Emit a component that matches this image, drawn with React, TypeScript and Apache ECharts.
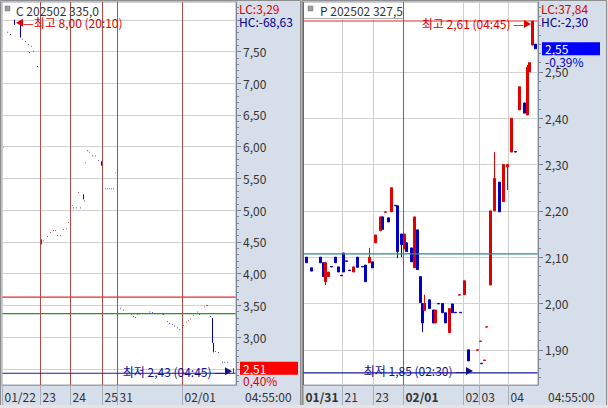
import React, { useEffect, useRef } from 'react';
import * as echarts from 'echarts';

const FONT = '"Noto Sans CJK KR", "Noto Sans", sans-serif';
const UP = '#e00000';
const DOWN = '#0000c0';

// ---------------- Left panel: C 202502 335,0 ----------------
const leftTitle = 'C 202502 335,0';
const leftLC = 'LC:3,29';
const leftHC = 'HC:-68,63';
const leftSlotCount = 234;
const leftTickSlots = [0, 38, 68, 100, 115, 180];
const leftTickLabels = ['01/22', '23', '24', '25', '31', '02/01'];
const leftDaySlots = [38, 68, 100, 115, 180];
const leftHourSlots: number[] = [];
const leftYMin = 2.245;
const leftYMax = 8.28;
const leftLabelValues = [3.0, 3.5, 4.0, 4.5, 5.0, 5.5, 6.0, 6.5, 7.0, 7.5];
const leftGridValues = [2.5, 3.0, 3.5, 4.0, 4.5, 5.0, 5.5, 6.0, 6.5, 7.0, 7.5, 8.0];
const leftMinorStep = 0.1;
// [slot, open, close, (low, high)]
const leftBars: number[][] = [
  [1, 5.99, 6.0], [5, 7.81, 7.8], [8, 7.77, 7.76], [12, 7.97, 7.93, 7.92, 8.0],
  [18, 7.92, 7.72], [20, 7.7, 7.69], [23, 7.66, 7.65], [26, 7.62, 7.61], [27, 7.49, 7.48],
  [29, 7.59, 7.58], [31, 7.51, 7.5], [35, 7.27, 7.26],
  [39, 4.46, 4.54], [41, 4.52, 4.51], [45, 4.58, 4.59], [48, 4.64, 4.65], [51, 4.68, 4.67],
  [53, 4.68, 4.67], [55, 4.61, 4.6], [58, 4.6, 4.59], [61, 4.69, 4.7], [64, 4.7, 4.71], [66, 4.8, 4.81],
  [68, 5.03, 5.04], [70, 5.07, 5.08], [71, 5.04, 5.03], [74, 5.04, 5.03], [76, 5.27, 5.28],
  [78, 5.04, 5.03], [81, 5.25, 5.17], [82, 5.15, 5.14], [83, 5.74, 5.75], [85, 5.94, 5.93],
  [87, 5.92, 5.91], [90, 5.86, 5.85], [93, 5.86, 5.85], [96, 5.79, 5.78], [99, 5.77, 5.7],
  [103, 5.34, 5.33], [105, 5.34, 5.33], [107, 5.34, 5.33], [109, 5.34, 5.33], [111, 5.34, 5.33],
  [113, 5.58, 5.59],
  [118, 3.46, 3.45], [121, 3.43, 3.42], [129, 3.36, 3.35], [131, 3.33, 3.32], [133, 3.31, 3.3],
  [135, 3.35, 3.36], [137, 3.36, 3.37], [140, 3.38, 3.37], [143, 3.37, 3.38], [147, 3.39, 3.4],
  [150, 3.39, 3.38], [152, 3.38, 3.37], [155, 3.36, 3.37], [157, 3.37, 3.38], [160, 3.37, 3.36],
  [161, 3.36, 3.35], [165, 3.25, 3.24], [167, 3.22, 3.21], [170, 3.2, 3.19], [172, 3.18, 3.17],
  [175, 3.15, 3.14], [177, 3.12, 3.11],
  [180, 3.15, 3.16], [181, 3.18, 3.19], [184, 3.23, 3.24], [186, 3.26, 3.27], [188, 3.28, 3.29],
  [191, 3.34, 3.35], [193, 3.37, 3.38], [195, 3.39, 3.4], [197, 3.36, 3.35], [200, 3.37, 3.38],
  [202, 3.47, 3.48], [204, 3.49, 3.5], [205, 3.49, 3.5], [208, 3.33, 3.32], [210, 3.3, 2.91],
  [211, 2.91, 2.76], [213, 2.78, 2.77], [216, 2.76, 2.75], [220, 2.61, 2.6], [222, 2.61, 2.6],
  [225, 2.61, 2.6], [231, 2.48, 2.51, 2.43, 2.51],
];
const leftRefLines = [
  { value: 3.63, color: '#e8282a' },
  { value: 3.37, color: '#1f9a1f' },
  { value: 2.43, color: '#1a1aa0' },
];
const leftHigh = { slot: 12, value: 8.0, time: '20:10', dir: 'left' };
const leftLow = { slot: 231, value: 2.43, time: '04:45', dir: 'right' };
const leftLast = { price: 2.51, pct: '0,40%', box: '#ff0000', pctColor: '#e00000' };

// ---------------- Right panel: P 202502 327,5 ----------------
const rightTitle = 'P 202502 327,5';
const rightLC = 'LC:37,84';
const rightHC = 'HC:-2,30';
const rightSlotCount = 235;
const rightTickSlots = [0, 39, 70, 100, 160, 176, 205];
const rightTickLabels = ['01/31', '21', '23', '02/01', '02', '03', '04'];
const rightBoldLabels = ['01/31', '02/01'];
const rightDaySlots = [0, 100];
const rightHourSlots = [39, 70, 160, 176, 205];
const rightYMin = 1.824;
const rightYMax = 2.651;
const rightLabelValues = [1.9, 2.0, 2.1, 2.2, 2.3, 2.4, 2.5];
const rightGridValues = [1.9, 2.0, 2.1, 2.2, 2.3, 2.4, 2.5];
const rightMinorStep = 0.02;
const rightBars: number[][] = [
  [3, 2.1, 2.088], [8, 2.077, 2.07], [17, 2.1, 2.088], [20, 2.088, 2.058],
  [22, 2.047, 2.088, 2.04, 2.09], [25, 2.058, 2.068], [28, 2.08, 2.079], [32, 2.1, 2.088],
  [35, 2.079, 2.068], [38, 2.061, 2.06], [40, 2.109, 2.068], [43, 2.092, 2.091], [46, 2.072, 2.071],
  [50, 2.068, 2.079], [54, 2.1, 2.078], [59, 2.08, 2.079], [62, 2.083, 2.047],
  [66, 2.088, 2.1, 2.088, 2.12], [69, 2.09, 2.077], [72, 2.131, 2.148], [77, 2.157, 2.187],
  [79, 2.187, 2.16], [82, 2.197, 2.198], [85, 2.185, 2.176], [88, 2.198, 2.25], [92, 2.212, 2.211],
  [94, 2.211, 2.112, 2.098, 2.211], [98, 2.15, 2.127, 2.1, 2.15], [101, 2.118, 2.15],
  [103, 2.131, 2.112], [108, 2.12, 2.09], [111, 2.077, 2.187], [114, 2.159, 2.073],
  [117, 2.058, 2.002], [119, 2.0, 1.958, 1.938, 2.0], [121, 1.985, 2.0, 1.985, 2.019],
  [126, 2.008, 1.989], [130, 1.986, 1.958], [132, 1.958, 1.986], [135, 2.0, 1.999],
  [139, 2.0, 1.98], [142, 1.98, 1.958], [146, 1.937, 1.989], [149, 1.999, 1.98], [152, 1.981, 1.98],
  [156, 2.018, 2.019], [157, 1.981, 1.98], [161, 2.019, 2.049], [165, 1.9, 1.876],
  [174, 1.899, 1.9], [177, 1.918, 1.919], [178, 1.871, 1.87], [181, 1.877, 1.878], [183, 1.949, 1.95],
  [187, 2.04, 2.2], [191, 2.2, 2.27, 2.2, 2.327], [196, 2.262, 2.198], [200, 2.22, 2.3],
  [204, 2.295, 2.3, 2.245, 2.3], [208, 2.327, 2.4], [212, 2.328, 2.327], [216, 2.418, 2.468],
  [221, 2.433, 2.411], [224, 2.407, 2.51, 2.407, 2.515], [226, 2.5, 2.52], [229, 2.558, 2.61],
  [232, 2.56, 2.55],
];
const rightRefLines = [
  { value: 2.61, color: '#e8282a' },
  { value: 2.107, color: '#2e8a8a' },
  { value: 1.85, color: '#1a1aa0' },
];
const rightHigh = { slot: 229, value: 2.61, time: '04:45', dir: 'right' };
const rightLow = { slot: 171, value: 1.85, time: '02:30', dir: 'right' };
const rightLast = { price: 2.55, pct: '-0,39%', box: '#0000ff', pctColor: '#0000c0' };

const fmt = (v: number) => v.toFixed(2).replace('.', ',');

function stepValues(min: number, max: number, step: number) {
  const out: number[] = [];
  const start = Math.ceil(min / step - 1e-9);
  const end = Math.floor(max / step + 1e-9);
  for (let k = start; k <= end; k++) out.push(+(k * step).toFixed(4));
  return out;
}

function normBars(bars: number[][]) {
  return bars.map((b) => {
    const [s, o, c] = b;
    const l = b.length > 3 ? b[3] : Math.min(o, c);
    const h = b.length > 4 ? b[4] : Math.max(o, c);
    return [s, o, c, l, h];
  });
}

function buildPanel(p: any, idx: number) {
  const cats = Array.from({ length: p.slotCount }, (_, i) => String(i));
  const labelMap = new Map<number, string>();
  p.tickSlots.forEach((s: number, i: number) => labelMap.set(s, p.tickLabels[i]));
  const xAxis = {
    type: 'category',
    gridIndex: idx,
    data: cats,
    boundaryGap: true,
    axisLine: { show: true, lineStyle: { color: '#9aa3b0' } },
    axisTick: {
      show: true,
      alignWithLabel: true,
      interval: (i: number) => labelMap.has(i),
      length: 20,
      lineStyle: { color: '#a7afbb' },
    },
    axisLabel: {
      show: true,
      interval: (i: number) => labelMap.has(i),
      formatter: (_v: string, i: number) => {
        const t = labelMap.get(i) || '';
        return p.boldLabels && p.boldLabels.includes(t) ? `{b|${t}}` : `{n|${t}}`;
      },
      align: 'left',
      margin: 5,
      rich: {
        b: { fontWeight: 'bold', fontSize: 12, fontFamily: FONT, color: '#333', padding: [0, 0, 0, 2] },
        n: { fontSize: 12, fontFamily: FONT, color: '#333', padding: [0, 0, 0, 2] },
      },
    },
    splitLine: { show: false },
  };
  const majorTicks = p.gridValues;
  const minorTicks = stepValues(p.yMin, p.yMax, p.minorStep);
  const yMajor = {
    type: 'value',
    gridIndex: idx,
    position: 'right',
    min: p.yMin,
    max: p.yMax,
    axisLine: { show: true, lineStyle: { color: '#7f8896' } },
    axisTick: { show: true, customValues: majorTicks, length: 5, lineStyle: { color: '#6f7886' } },
    axisLabel: {
      show: true,
      customValues: p.labelValues,
      formatter: (v: number) => fmt(v),
      margin: 7,
      color: '#333',
      fontSize: 12,
      fontFamily: FONT,
    },
    splitLine: { show: false },
  };
  const yMinor = {
    type: 'value',
    gridIndex: idx,
    position: 'right',
    min: p.yMin,
    max: p.yMax,
    axisLine: { show: false },
    axisTick: { show: true, customValues: minorTicks, length: 3, lineStyle: { color: '#7f8896' } },
    axisLabel: { show: false },
    splitLine: { show: false },
  };

  const yIdx = idx * 2;
  const gridSeries = {
    type: 'line',
    xAxisIndex: idx,
    yAxisIndex: yIdx,
    data: [],
    silent: true,
    markLine: {
      silent: true,
      symbol: 'none',
      z: 1,
      animation: false,
      label: { show: false },
      data: [
        ...p.gridValues.map((v: number) => ({ yAxis: v, lineStyle: { color: '#d2d2d2', width: 1, type: 'solid' } })),
        ...p.hourSlots.map((s: number) => ({ xAxis: s, lineStyle: { color: '#cfcfcf', width: 1, type: 'solid' } })),
        ...p.daySlots.map((s: number) => ({ xAxis: s, lineStyle: { color: '#b04a4a', width: 1, type: 'solid' } })),
      ],
    },
  };

  // reference lines as flat line series spanning the whole axis
  const refSeries = p.refLines.map((r: any) => ({
    type: 'line',
    xAxisIndex: idx,
    yAxisIndex: yIdx,
    data: [[0, r.value], [p.slotCount - 1, r.value]],
    silent: true,
    showSymbol: false,
    symbol: 'none',
    z: 4,
    color: r.color,
    lineStyle: { color: r.color, width: 1.2, type: 'solid', opacity: 1 },
  }));

  const mk = (pt: any, kind: 'high' | 'low') => {
    const color = kind === 'high' ? '#e00000' : '#10108c';
    const word = kind === 'high' ? '최고' : '최저';
    const txt = `${word} ${fmt(pt.value)} (${pt.time})`;
    const pointsLeft = pt.dir === 'left';
    const dy = kind === 'high' ? 3 : -2;
    return {
      coord: [pt.slot, pt.value],
      symbol: 'triangle',
      symbolSize: [8, 7],
      symbolRotate: pointsLeft ? 90 : -90,
      symbolOffset: [pointsLeft ? 5 : -5, dy],
      itemStyle: { color },
      label: {
        show: true,
        position: pointsLeft ? 'right' : 'left',
        distance: 0,
        formatter: pointsLeft ? `—${txt}` : `${txt} —`,
        color,
        fontSize: 12,
        lineHeight: 13,
        fontFamily: FONT,
      },
    };
  };

  const candle = {
    type: 'candlestick',
    xAxisIndex: idx,
    yAxisIndex: yIdx,
    data: normBars(p.bars),
    encode: { x: 0, y: [1, 2, 3, 4] },
    barWidth: p.barWidth,
    itemStyle: { color: UP, color0: DOWN, borderColor: UP, borderColor0: DOWN, borderWidth: 1 },
    markLine: {
      silent: true,
      symbol: 'none',
      animation: false,
      data: [
        {
          yAxis: p.last.price,
          lineStyle: { width: 0, color: 'transparent' },
          label: {
            show: true,
            position: 'end',
            distance: 4,
            formatter: `{c| }\n{a|${fmt(p.last.price)}}\n{b|${p.last.pct}}`,
            rich: {
              c: { fontSize: 11, lineHeight: 12, fontFamily: FONT, color: 'transparent' },
              a: {
                backgroundColor: p.last.box,
                color: '#ffffff',
                width: 55,
                height: 13,
                lineHeight: 13,
                padding: [0, 0, 0, 3],
                fontSize: 12,
                fontFamily: FONT,
              },
              b: { color: p.last.pctColor, fontSize: 12, lineHeight: 12, fontFamily: FONT, padding: [0, 0, 0, 3] },
            },
          },
        },
      ],
    },
    markPoint: {
      silent: true,
      animation: false,
      data: [mk(p.high, 'high'), mk(p.low, 'low')],
    },
  };

  return { xAxis, yAxes: [yMajor, yMinor], series: [gridSeries, candle, ...refSeries] };
}

const leftPanel = {
  slotCount: leftSlotCount, tickSlots: leftTickSlots, tickLabels: leftTickLabels, boldLabels: [],
  daySlots: leftDaySlots, hourSlots: leftHourSlots, yMin: leftYMin, yMax: leftYMax,
  labelValues: leftLabelValues, gridValues: leftGridValues, minorStep: leftMinorStep,
  bars: leftBars, refLines: leftRefLines, high: leftHigh, low: leftLow, last: leftLast, barWidth: 1,
};
const rightPanel = {
  slotCount: rightSlotCount, tickSlots: rightTickSlots, tickLabels: rightTickLabels, boldLabels: rightBoldLabels,
  daySlots: rightDaySlots, hourSlots: rightHourSlots, yMin: rightYMin, yMax: rightYMax,
  labelValues: rightLabelValues, gridValues: rightGridValues, minorStep: rightMinorStep,
  bars: rightBars, refLines: rightRefLines, high: rightHigh, low: rightLow, last: rightLast, barWidth: 2.5,
};

export default function App() {
  const ref = useRef<HTMLDivElement>(null);
  useEffect(() => {
    if (!ref.current) return;
    const chart = echarts.init(ref.current, undefined, { renderer: 'svg' });
    const L = buildPanel(leftPanel, 0);
    const R = buildPanel(rightPanel, 1);
    const txt = (x: number, y: number, text: string, fill: string, extra: any = {}) => ({
      type: 'text',
      x,
      y,
      z: 20,
      silent: true,
      style: { text, fill, fontSize: 12, fontFamily: FONT, verticalAlign: 'middle', ...extra },
    });
    chart.setOption({
      animation: false,
      backgroundColor: '#d6deea',
      grid: [
        { left: 2, top: 2, width: 234, height: 383, show: true, backgroundColor: '#ffffff', borderColor: '#9aa0a8', borderWidth: 1 },
        { left: 303, top: 2, width: 235, height: 383, show: true, backgroundColor: '#ffffff', borderColor: '#9aa0a8', borderWidth: 1 },
      ],
      xAxis: [L.xAxis, R.xAxis],
      yAxis: [...L.yAxes, ...R.yAxes],
      series: [...L.series, ...R.series],
      graphic: [
        // frames
        { type: 'rect', z: 15, silent: true, shape: { x: 0.5, y: 0.5, width: 300, height: 405 }, style: { fill: 'none', stroke: '#8e8e8e', lineWidth: 1 } },
        { type: 'rect', z: 15, silent: true, shape: { x: 301, y: 0, width: 1.5, height: 406 }, style: { fill: '#b4b4b4' } },
        { type: 'rect', z: 15, silent: true, shape: { x: 302.5, y: 0.5, width: 304, height: 405 }, style: { fill: 'none', stroke: '#8e8e8e', lineWidth: 1 } },
        { type: 'rect', z: 15, silent: true, shape: { x: 0, y: 405, width: 608, height: 3 }, style: { fill: '#e4e4e4' } },
        // left title
        { type: 'rect', z: 20, silent: true, shape: { x: 5, y: 6, width: 5, height: 5 }, style: { fill: '#9c9c9c', stroke: '#7a7a7a', lineWidth: 0.5 } },
        txt(16, 10, leftTitle, '#333333'),
        // right title box
        { type: 'rect', z: 19, silent: true, shape: { x: 304, y: 3, width: 99, height: 15 }, style: { fill: '#ffffff' } },
        { type: 'line', z: 19, silent: true, shape: { x1: 304, y1: 18.5, x2: 403, y2: 18.5 }, style: { stroke: '#b0b0b0', lineWidth: 1 } },
        { type: 'rect', z: 20, silent: true, shape: { x: 308, y: 6, width: 5, height: 5 }, style: { fill: '#9c9c9c', stroke: '#7a7a7a', lineWidth: 0.5 } },
        txt(320, 10, rightTitle, '#333333'),
        // LC / HC
        txt(239, 8, leftLC, '#e00000'),
        txt(239, 21, leftHC, '#000090'),
        txt(541, 8, rightLC, '#e00000'),
        txt(541, 21, rightHC, '#000090'),
        // time
        txt(245, 396, '04:55:00', '#333333'),
        txt(548, 396, '04:55:00', '#333333'),
      ],
    });
    return () => chart.dispose();
  }, []);
  return (
    <div
      ref={ref}
      style={{ position: 'fixed', left: 0, top: 0, width: 608, height: 408, background: '#d6deea' }}
    />
  );
}
